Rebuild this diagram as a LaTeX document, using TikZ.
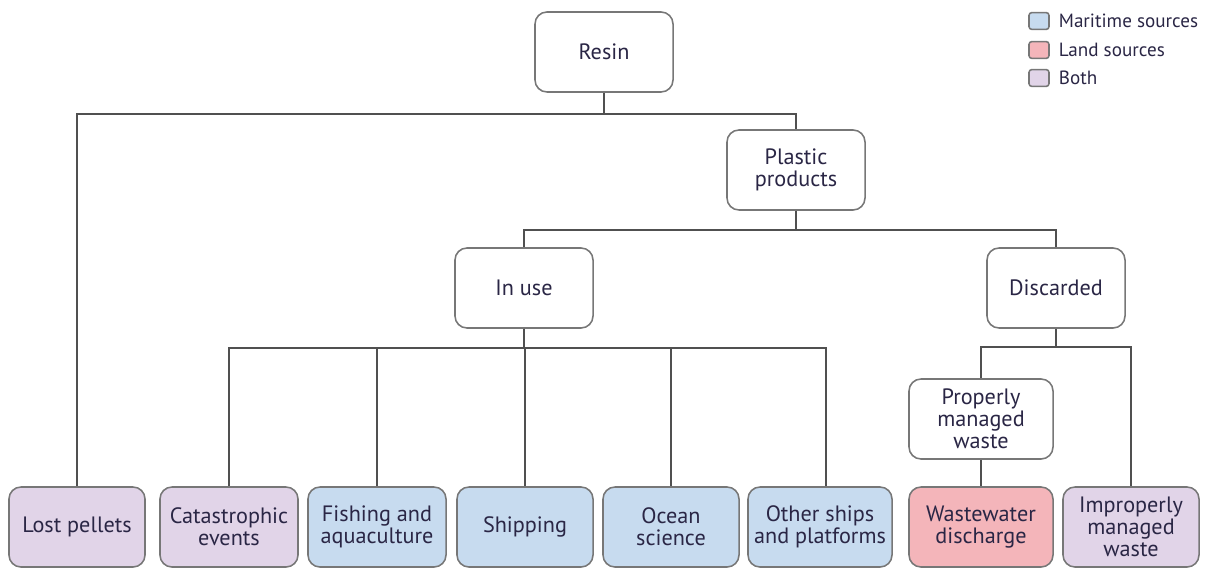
\documentclass[tikz,border=0pt]{standalone}
\usepackage{fontspec}
\setmainfont{PT Sans}
\usetikzlibrary{positioning}
\usepackage{xcolor}
\definecolor{mpink}{HTML}{F4B5BA}
\definecolor{mblue}{HTML}{C7DBEF}
\definecolor{mlilac}{HTML}{E1D4E8}
\definecolor{mline}{HTML}{505050}
\definecolor{mframe}{HTML}{777777}
\definecolor{mtext}{HTML}{2A2645}

\begin{document}
\begin{tikzpicture}[x=0.025cm, y=-0.025cm,
          box/.style={draw=mframe, line width=1.1pt, fill=white, rounded corners=0.3cm, text=mtext, font=\fontsize{15.8}{15.8}\selectfont, minimum width=3.45cm, minimum height=2cm, align=center, inner sep=1pt},
          sea/.style={box, fill=mblue},
          land/.style={box, fill=mpink},
          both/.style={box, fill=mlilac},
          key/.style={draw=mframe, line width=1.1pt, rounded corners=2pt, minimum width=0.5cm, minimum height=0.42cm, inner sep=0pt},
          keytext/.style={text=mtext, font=\fontsize{13.6}{15}\selectfont, right=0.22cm of #1, inner sep=0pt},
          link/.style={draw=mline, line width=1.7pt}]
        \useasboundingbox (0,0) rectangle (1208,570);
        % upper part of the tree
        \node[box] (resin) at (604,52) {Resin};
        \node[box] (plastic) at (796,170) {Plastic\\products};
        \node[box] (inuse) at (524,288) {In use};
        \node[box] (discarded) at (1056,288) {Discarded};
        \node[box, minimum width=3.6cm] (proper) at (981,419) {Properly\\managed\\waste};
        % bottom row
        \node[both, minimum width=3.4cm] (lost) at (77,527) {Lost pellets};
        \node[both] (cata) at (229,527) {Catastrophic\\events};
        \node[sea] (fish) at (377,527) {Fishing and\\aquaculture};
        \node[sea, minimum width=3.4cm] (ship) at (525,527) {Shipping};
        \node[sea, minimum width=3.4cm] (ocean) at (671,527) {Ocean\\science};
        \node[sea, minimum width=3.6cm] (other) at (820,527) {Other ships\\and platforms};
        \node[land, minimum width=3.6cm] (waste) at (981,527) {Wastewater\\discharge};
        \node[both, minimum width=3.4cm] (improper) at (1131,527) {Improperly\\managed\\waste};
        \coordinate (otherin) at ([xshift=0.15cm]other.north);
        % legend
        \node[key, fill=mblue] (kmar) at (1039,21) {};
        \node[key, fill=mpink] (kland) at (1039,50) {};
        \node[key, fill=mlilac] (kboth) at (1039,78) {};
        \node[keytext=kmar] (tmar) {Maritime sources};
        \node[keytext=kland] (tland) {Land sources};
        \node[keytext=kboth] (tboth) {Both};
        % connectors
        \draw[link] (resin.south) -- ++(0,21) -| (lost.north);
        \draw[link] (resin.south) -- ++(0,21) -| (plastic.north);
        \draw[link] (plastic.south) -- ++(0,19) -| (inuse.north);
        \draw[link] (plastic.south) -- ++(0,19) -| (discarded.north);
        \foreach \n in {cata, fish, ship, ocean, otherin}
          \draw[link] (inuse.south) -- ++(0,19) -| (\n);
        \draw[link] (discarded.south) -- ++(0,18) -| (proper.north);
        \draw[link] (discarded.south) -- ++(0,18) -| (improper.north);
        \draw[link] (proper) -- (waste);
      \end{tikzpicture}
\end{document}
